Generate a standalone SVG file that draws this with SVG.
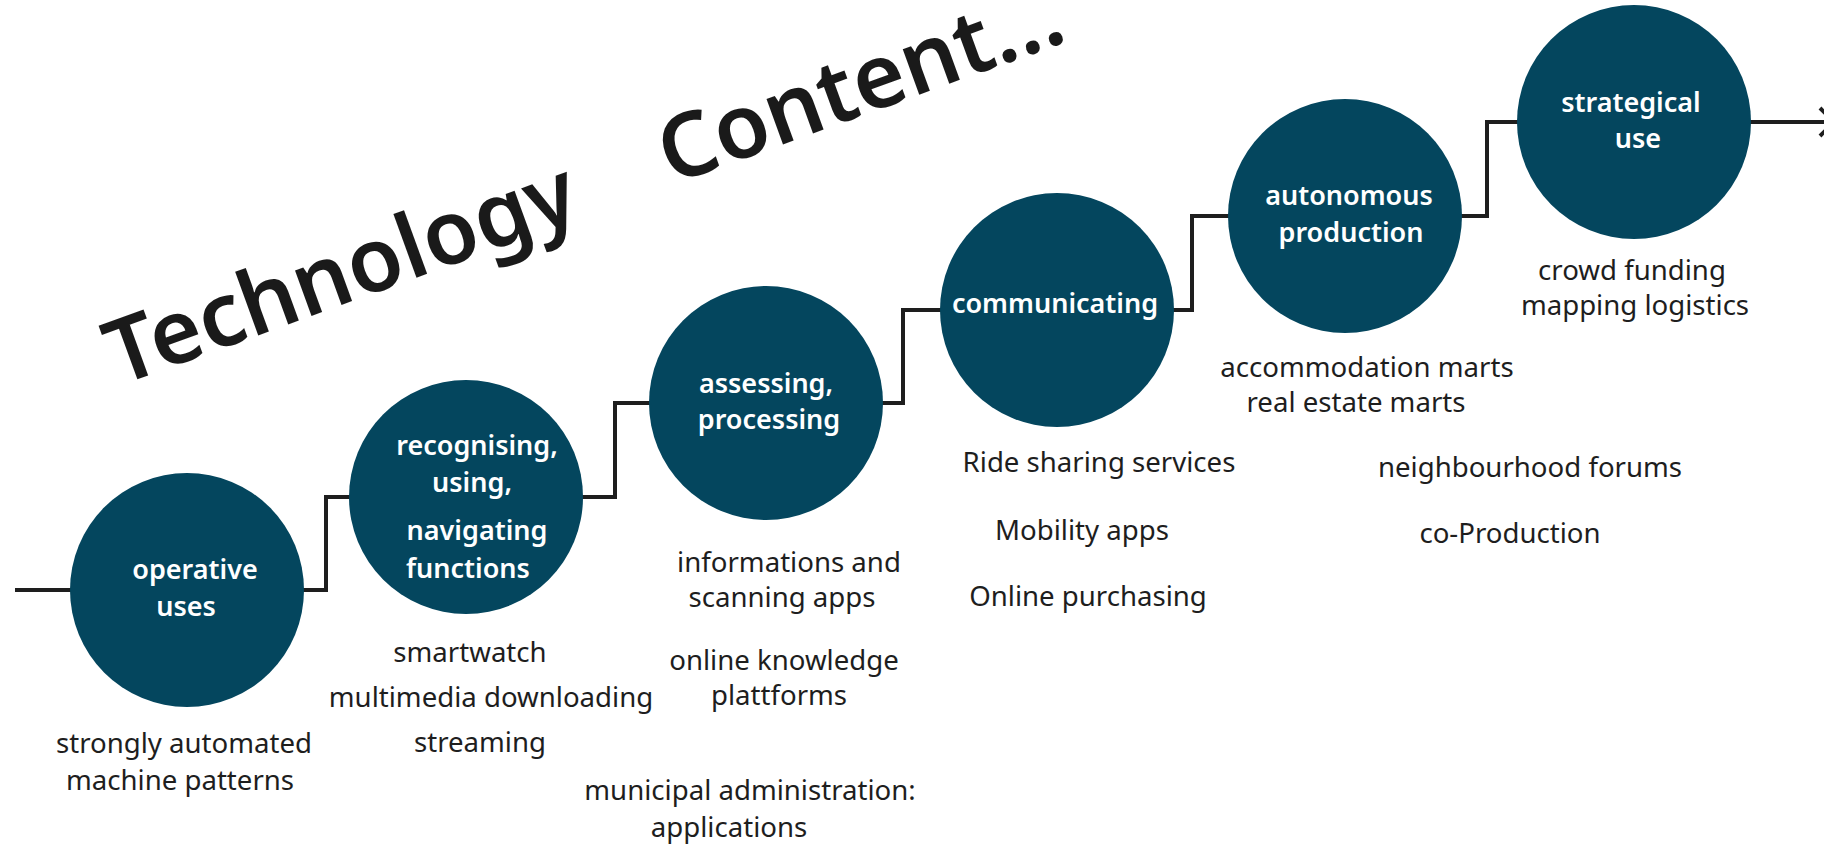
<svg xmlns="http://www.w3.org/2000/svg" width="1824" height="844" viewBox="0 0 1824 844">
<style>
.node{fill:#04465e}
.lbl{font-family:"Noto Sans","Open Sans",sans-serif;font-weight:600;font-size:27px;fill:#ffffff;text-anchor:middle}
.txt{font-family:"Noto Sans","Open Sans",sans-serif;font-weight:400;font-size:27.6px;fill:#1e1e1e;text-anchor:middle}
.title{font-family:"Noto Sans","Open Sans",sans-serif;font-weight:600;font-size:89px;fill:#1a1a1a}
.conn{fill:none;stroke:#1e1e1e;stroke-width:4}
</style>
<defs>
<marker id="arr" markerWidth="22" markerHeight="34" refX="17" refY="16" orient="auto" markerUnits="userSpaceOnUse">
<path d="M3,2 L17,16 L3,30" fill="none" stroke="#1e1e1e" stroke-width="4"/>
</marker>
</defs>
<rect width="1824" height="844" fill="#ffffff"/>
<g id="title" transform="translate(119,386) rotate(-20)">
<text class="title" x="0" y="0">Technology</text>
<text class="title" x="588" y="0">Content...</text>
</g>
<g id="connectors">
<path class="conn" d="M15,590 H72"/>
<path class="conn" d="M302,590 H326 V497 H351"/>
<path class="conn" d="M581,497 H615 V403 H651"/>
<path class="conn" d="M881,403 H903 V310 H942"/>
<path class="conn" d="M1172,310 H1192 V216 H1230"/>
<path class="conn" d="M1460,216 H1487 V122 H1520"/>
<path class="conn" d="M1749,122 H1834" marker-end="url(#arr)"/>
</g>
<g id="node-operative">
<circle class="node" cx="187" cy="590" r="117"/>
<text class="lbl" x="195" y="579">operative</text>
<text class="lbl" x="186" y="616">uses</text>
</g>
<g id="node-recognising">
<circle class="node" cx="466" cy="497" r="117"/>
<text class="lbl" x="477" y="455">recognising,</text>
<text class="lbl" x="472" y="492">using,</text>
<text class="lbl" x="477" y="540">navigating</text>
<text class="lbl" x="468" y="578">functions</text>
</g>
<g id="node-assessing">
<circle class="node" cx="766" cy="403" r="117"/>
<text class="lbl" x="766" y="393">assessing,</text>
<text class="lbl" x="769" y="429">processing</text>
</g>
<g id="node-communicating">
<circle class="node" cx="1057" cy="310" r="117"/>
<text class="lbl" x="1055" y="313">communicating</text>
</g>
<g id="node-autonomous">
<circle class="node" cx="1345" cy="216" r="117"/>
<text class="lbl" x="1349" y="205">autonomous</text>
<text class="lbl" x="1351" y="242">production</text>
</g>
<g id="node-strategical">
<circle class="node" cx="1634" cy="122" r="117"/>
<text class="lbl" x="1631" y="112">strategical</text>
<text class="lbl" x="1638" y="148">use</text>
</g>
<g id="examples">
<text class="txt" x="184" y="753">strongly automated</text>
<text class="txt" x="180" y="790">machine patterns</text>
<text class="txt" x="470" y="662">smartwatch</text>
<text class="txt" x="491" y="707">multimedia downloading</text>
<text class="txt" x="480" y="752">streaming</text>
<text class="txt" x="789" y="572">informations and</text>
<text class="txt" x="782" y="607">scanning apps</text>
<text class="txt" x="784" y="670">online knowledge</text>
<text class="txt" x="779" y="705">plattforms</text>
<text class="txt" x="750" y="800">municipal administration:</text>
<text class="txt" x="729" y="837">applications</text>
<text class="txt" x="1099" y="472">Ride sharing services</text>
<text class="txt" x="1082" y="540">Mobility apps</text>
<text class="txt" x="1088" y="606">Online purchasing</text>
<text class="txt" x="1367" y="377">accommodation marts</text>
<text class="txt" x="1356" y="412">real estate marts</text>
<text class="txt" x="1530" y="477">neighbourhood forums</text>
<text class="txt" x="1510" y="543">co-Production</text>
<text class="txt" x="1632" y="280">crowd funding</text>
<text class="txt" x="1635" y="315">mapping logistics</text>
</g>
</svg>
